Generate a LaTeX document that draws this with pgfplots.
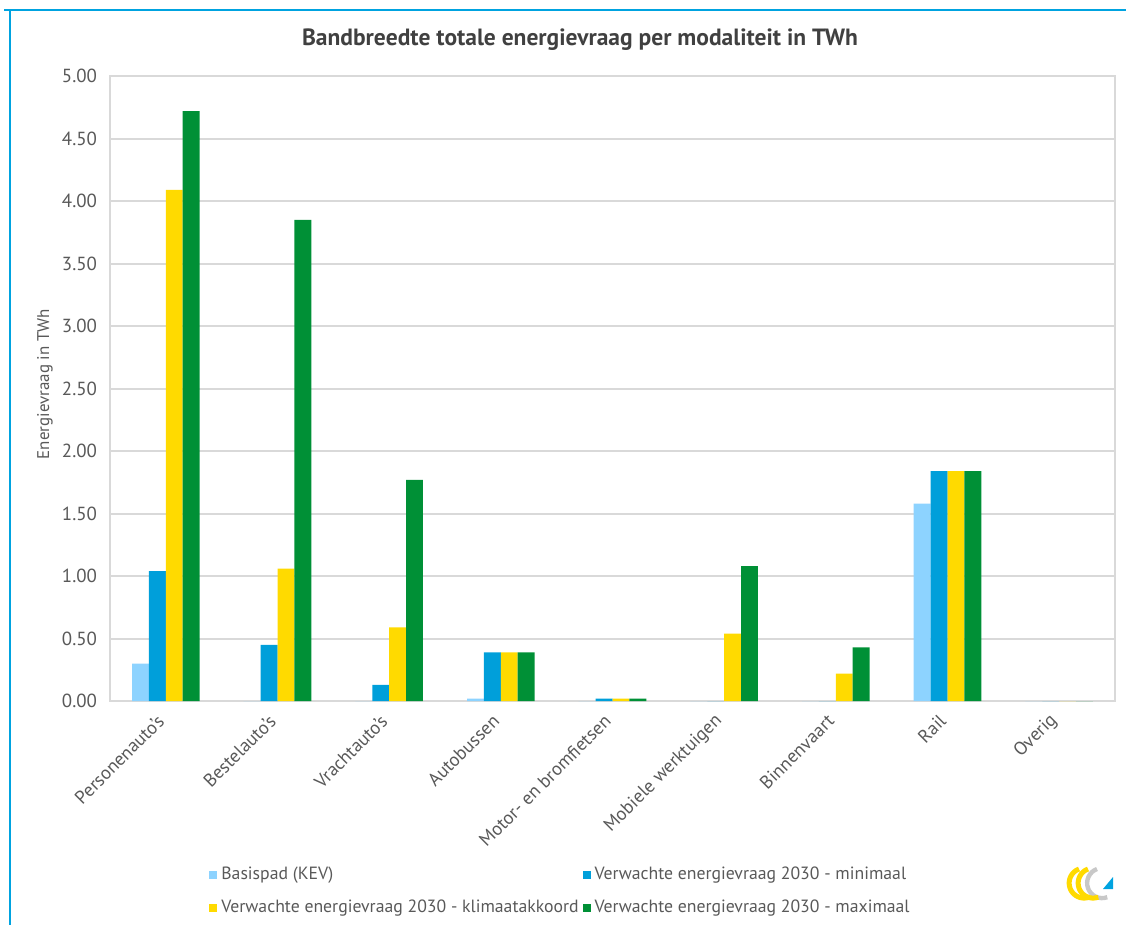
\documentclass[border=0pt]{standalone}
\usepackage{pgfplots}
\pgfplotsset{compat=1.18}
\usepackage{fontspec}
\setmainfont{PT Sans}
\definecolor{cBasis}{HTML}{8DD3FF}
\definecolor{cMin}{HTML}{009FDA}
\definecolor{cKlim}{HTML}{FFDA00}
\definecolor{cMax}{HTML}{009036}
\definecolor{cFrame}{HTML}{00A3E0}
\definecolor{cGrid}{HTML}{D9D9D9}
\definecolor{cText}{HTML}{595959}
\definecolor{cTitle}{HTML}{404040}
\definecolor{cLogoGray}{HTML}{C8C8C8}
\pgfplotstableread{
x basis min klim max
0 0.30 1.04 4.09 4.72
1 0 0.45 1.06 3.85
2 0 0.13 0.59 1.77
3 0.02 0.39 0.39 0.39
4 0 0.02 0.02 0.02
5 0 0 0.54 1.08
6 0 0 0.22 0.43
7 1.58 1.84 1.84 1.84
8 0 0 0 0
}\datatable
\begin{document}
\begin{tikzpicture}
\path[use as bounding box] (0bp,0bp) rectangle (563bp,-462.5bp);
\draw[cFrame, line width=1bp] (2bp,-5bp) -- (563bp,-5bp);
\draw[cFrame, line width=1bp] (4.75bp,-5bp) -- (4.75bp,-462.5bp);
\node[font=\fontsize{11.8}{14}\selectfont\bfseries, text=cTitle] at (290bp,-20bp) {Bandbreedte totale energievraag per modaliteit in TWh};
\begin{axis}[
  at={(55bp,-350.5bp)}, anchor=south west,
  width=502.5bp, height=312.5bp, scale only axis,
  ybar=0pt, bar width=8.45bp,
  xmin=-0.5, xmax=8.5, ymin=0, ymax=5,
  ytick={0,0.5,...,5},
  xtick=data,
  xticklabels={Personenauto's,Bestelauto's,Vrachtauto's,Autobussen,Motor- en bromfietsen,Mobiele werktuigen,Binnenvaart,Rail,Overig},
  xticklabel style={xshift=0bp, yshift=-6bp, rotate=45, anchor=east, font=\fontsize{9.3}{11}\selectfont, text=cText},
  yticklabel style={xshift=-3bp, font=\fontsize{9.5}{11}\selectfont, text=cText},
  /pgf/number format/assume math mode=true,
  /pgf/number format/.cd, fixed, fixed zerofill, precision=2, /pgfplots/.cd,
  major tick length=0pt,
  ymajorgrids, grid style={cGrid, line width=1bp},
  axis line style={cGrid, line width=1bp},
  ylabel={Energievraag in TWh},
  ylabel style={at={(axis description cs:-0.0647,0.507)}, anchor=center, font=\fontsize{8.5}{10}\selectfont, text=cText},
  legend columns=2,
  legend style={at={(axis description cs:0.0985,-0.259)}, anchor=north west, draw=none, fill=none,
    font=\fontsize{8.9}{10.5}\selectfont, text=cText, row sep=4.5bp,
    /tikz/every even column/.append style={column sep=0bp},
    inner sep=0pt},
  legend cell align=left,
  legend image code/.code={\fill[#1] (0bp,-2bp) rectangle (4bp,2bp);},
]
\addplot[fill=cBasis, draw=none] table[x=x,y=basis] {\datatable};
\addplot[fill=cMin, draw=none] table[x=x,y=min] {\datatable};
\addplot[fill=cKlim, draw=none] table[x=x,y=klim] {\datatable};
\addplot[fill=cMax, draw=none] table[x=x,y=max] {\datatable};
\legend{Basispad (KEV),Verwachte energievraag 2030 - minimaal,Verwachte energievraag 2030 - klimaatakkoord,Verwachte energievraag 2030 - maximaal}
\end{axis}
% logo
\begin{scope}[shift={(543.5bp,-441.5bp)}]
\draw[cLogoGray, line width=2.2bp] (5bp,7bp) arc[start angle=110, end angle=290, radius=7.5bp];
\draw[cKlim, line width=2.5bp] (-4bp,7bp) arc[start angle=110, end angle=290, radius=7.5bp];
\draw[cKlim, line width=2.5bp] (0.5bp,7bp) arc[start angle=110, end angle=290, radius=7.5bp];
\fill[cFrame] (8bp,-3bp) -- (13bp,-3bp) -- (13bp,3bp) -- cycle;
\end{scope}
\end{tikzpicture}
\end{document}
